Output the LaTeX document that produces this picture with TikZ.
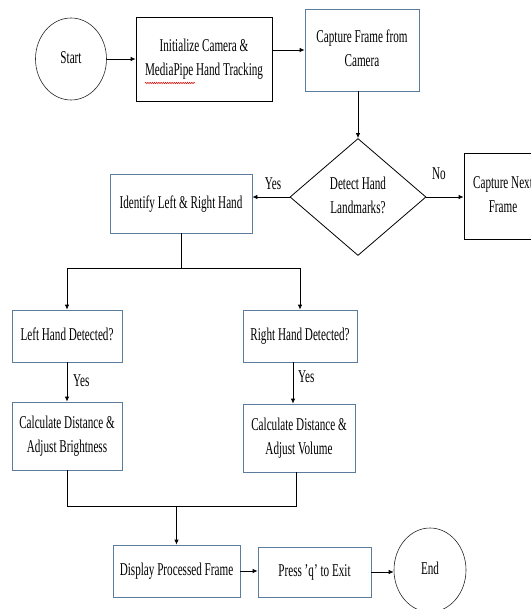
\documentclass[tikz,border=0pt]{standalone}
\usepackage{fontspec}
\setmainfont{Liberation Serif}
\usetikzlibrary{shapes.geometric,arrows.meta,decorations.pathmorphing}
\definecolor{boxblue}{RGB}{92,124,158}
\newcommand{\TT}[1]{\scalebox{0.62}[1]{\fontsize{18}{24}\selectfont\begin{tabular}{@{}c@{}}#1\end{tabular}}}
\tikzset{
  base/.style={inner sep=0pt, line width=0.8pt},
  bluebox/.style={base, rectangle, draw=boxblue},
  blackbox/.style={base, rectangle, draw=black},
  oval/.style={base, ellipse, draw=black!85, line width=0.6pt},
  decision/.style={base, diamond, draw=black, aspect=1.16},
  conn/.style={draw=black, line width=0.8pt},
  arr/.style={conn, -{Latex[length=5pt,width=4.5pt]}},
  lbl/.style={inner sep=0pt}
}
\begin{document}
\begin{tikzpicture}[x=1pt,y=-1pt]
\useasboundingbox (0,0) rectangle (530,609);
\fill[white] (0,0) rectangle (530,609);

\node[oval, minimum width=71, minimum height=82] (start) at (71,59) {\TT{Start}};
\node[blackbox, minimum width=136, minimum height=84] (init) at (204,59) {\TT{Initialize Camera \&\\MediaPipe Hand Tracking}};
\node[bluebox, minimum width=114, minimum height=82] (cap) at (362,50) {\TT{Capture Frame from\\Camera}};
\node[decision, minimum width=136, minimum height=117] (dec) at (358,197) {\TT{Detect Hand\\Landmarks?}};
\node[bluebox, minimum width=142, minimum height=59] (ident) at (181,203.5) {\TT{Identify Left \& Right Hand}};
\node[blackbox, minimum width=78, minimum height=86] (next) at (503,196) {\TT{Capture Next\\Frame}};
\node[bluebox, minimum width=110, minimum height=52] (lhd) at (67,336) {\TT{Left Hand Detected?}};
\node[bluebox, minimum width=114, minimum height=52] (rhd) at (300,336) {\TT{Right Hand Detected?}};
\node[bluebox, minimum width=110, minimum height=68] (calcb) at (67,436) {\TT{Calculate Distance \&\\Adjust Brightness}};
\node[bluebox, minimum width=112, minimum height=68] (calcv) at (299,438) {\TT{Calculate Distance \&\\Adjust Volume}};
\node[bluebox, minimum width=127, minimum height=52] (disp) at (176.5,571) {\TT{Display Processed Frame}};
\node[bluebox, minimum width=113, minimum height=50] (press) at (314.5,572) {\TT{Press 'q' to Exit}};
\node[oval, minimum width=72, minimum height=84] (end) at (430,570) {\TT{End}};

% spell-check underline
\draw[red!85!black, line width=0.5pt, decorate, decoration={snake, amplitude=0.7pt, segment length=2.2pt}] (145,83) -- (195,83);

% connectors
\draw[arr] (start.east) -- (start.east -| init.west);
\draw[arr] (init.east |- cap.west) -- (cap.west);
\draw[arr] (dec.north |- cap.south) -- (dec.north);
\draw[arr] (dec.west) -- (dec.west -| ident.east);
\draw[arr] (dec.east) -- (dec.east -| next.west);
\node[lbl] (yes1) at (273,185) {\TT{Yes}};
\node[lbl] (no1) at (439,175) {\TT{No}};

\coordinate (split) at (181,268);
\draw[conn] (ident.south) -- (split);
\draw[arr] (split) -| (lhd.north);
\draw[arr] (split) -| (rhd.north);

\draw[arr] (lhd.south) -- (calcb.north);
\node[lbl, anchor=west] (yes2) at (73,382) {\TT{Yes}};
\coordinate (rtop) at (293,362);
\draw[arr] (rtop) -- (rtop |- calcv.north);
\node[lbl, anchor=west] (yes3) at (298,378) {\TT{Yes}};

\coordinate (mL) at (67,506);
\coordinate (mR) at (296,506);
\coordinate (mC) at (176.5,506);
\draw[conn, line width=0.9pt] (calcb.south) -- (mL) -- (mR) -- (mR |- calcv.south);
\draw[arr] (mC) -- (disp.north);

\draw[arr] (disp.east) -- (disp.east -| press.west);
\draw[arr] (press.east) -- (press.east -| end.west);
\end{tikzpicture}
\end{document}
